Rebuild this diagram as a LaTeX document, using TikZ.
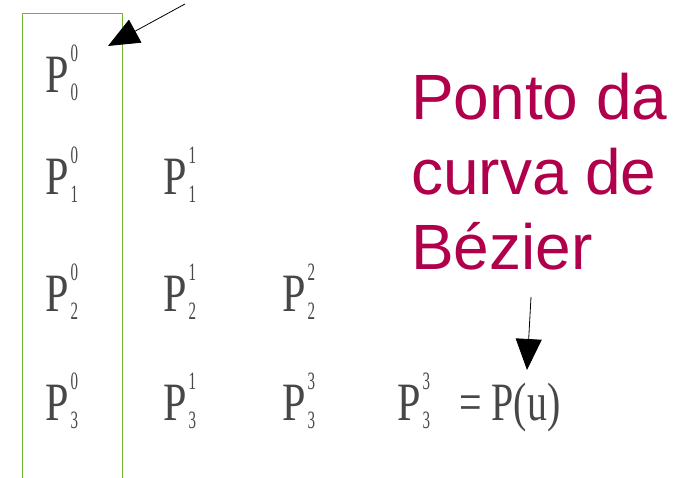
\documentclass[tikz,border=0pt]{standalone}
\usepackage{fontspec}
\setmainfont{Liberation Serif}
\setsansfont{Liberation Sans}
\newfontfamily\pfont{Liberation Serif}
\usepackage{graphicx}
\definecolor{bezierred}{HTML}{B0004C}
\definecolor{framegreen}{HTML}{72B52E}
\usetikzlibrary{arrows.meta, positioning}

% P with stacked sub- and superscript
\newcommand{\digit}[1]{\scalebox{0.6}[1]{\pfont\fontsize{25}{25}\selectfont #1}}
\newcommand{\ptlabel}[2]{\scalebox{0.78}[1]{\pfont\fontsize{54}{54}\selectfont P}\hspace{2pt}\rlap{\raisebox{31pt}{\digit{#2}}}\raisebox{-8pt}{\digit{#1}}}

\begin{document}
\begin{tikzpicture}[x=1pt, y=-1pt,
    pnode/.style={anchor=base west, inner sep=0pt, text=black!72, font=\pfont},
    callout/.style={-{Triangle[length=31pt, width=26pt]}, line width=0.8pt}]
  \useasboundingbox (0,0) rectangle (688,478);

  % first column frame
  \draw[framegreen, line width=1pt] (22,480) -- (22,14) -- (122,14) -- (122,480);

  \foreach \r/\c/\x/\y/\s in {
    0/0/45/93/0,
    1/0/45/195/0, 1/1/163/195/1,
    2/0/45/312/0, 2/1/163/312/1, 2/2/282/312/2,
    3/0/45/420/0, 3/1/163/420/1, 3/2/282/420/3, 3/3/397/420/3}{
    \node[pnode] (p\r\c) at (\x,\y) {\ptlabel{\r}{\s}};
  }
  \node[pnode] (pu) at (459,420) {\scalebox{0.74}[1]{\pfont\fontsize{54}{54}\selectfont = P(u)}};

  \node[anchor=north west, inner sep=0pt, align=left, text=bezierred,
        font=\sffamily\fontsize{64}{75}\selectfont] (label) at (411,73)
        {Ponto da\\curva de\\Bézier};

  \coordinate (starta) at (185,4);
  \coordinate (tipa) at (108,46);
  \coordinate (startb) at (531,297);
  \coordinate (tipb) at (527,370);
  \draw[callout] (starta) -- (tipa);
  \draw[callout] (startb) -- (tipb);
\end{tikzpicture}
\end{document}
